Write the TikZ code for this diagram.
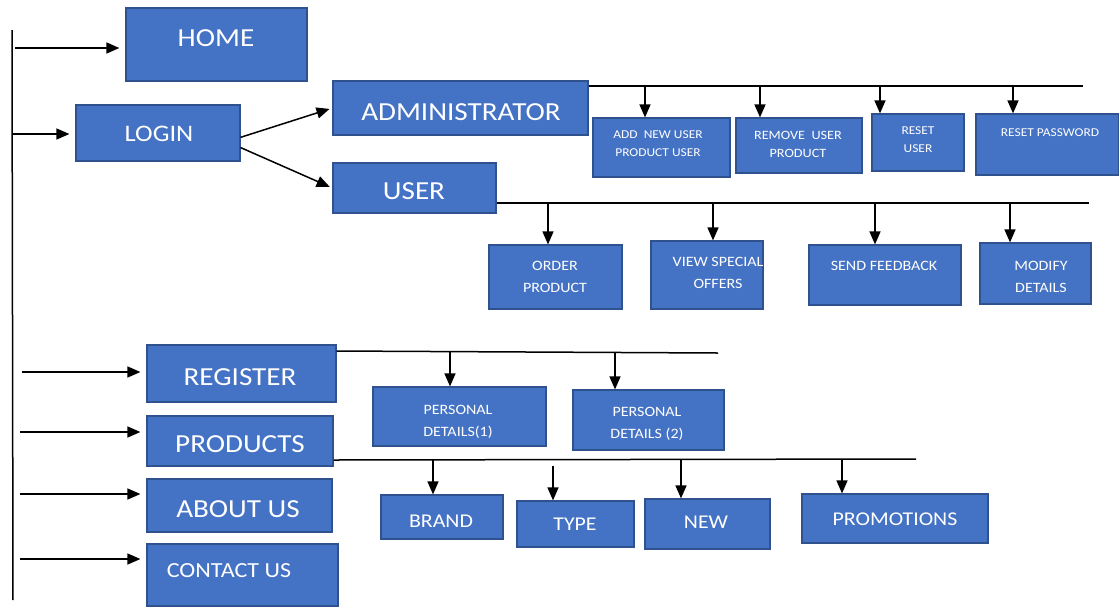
\documentclass[tikz,border=0pt]{standalone}
\usepackage{fontspec}
\setmainfont[FakeStretch=1.12]{Carlito}
\usetikzlibrary{arrows.meta}
\definecolor{boxfill}{HTML}{4472C4}
\definecolor{boxline}{HTML}{2F528F}
\tikzset{
  box/.style={draw=boxline, fill=boxfill, line width=1.2pt, inner sep=0pt, rectangle},
  txt/.style={text=white, align=center, inner sep=0pt},
  big/.style={txt, font=\fontsize{26}{30}\selectfont},
  mid/.style={txt, font=\fontsize{19.5}{24}\selectfont},
  tiny/.style={txt, font=\fontsize{12}{18}\selectfont},
  sml/.style={txt, font=\fontsize{14.3}{22}\selectfont},
  arr/.style={line width=1.5pt, -{Triangle[length=13pt,width=11pt]}},
  bus/.style={line width=1.5pt},
}
\begin{document}
\begin{tikzpicture}[x=1pt,y=-1pt]
\useasboundingbox (0,0) rectangle (1119,606);
% boxes
\node[box, minimum width=181, minimum height=73] (home) at (216.5,44.5) {};
\node[box, minimum width=164, minimum height=56] (login) at (158,133) {};
\node[box, minimum width=255, minimum height=54] (admin) at (460.5,108) {};
\node[box, minimum width=163, minimum height=50] (user) at (414.5,188) {};
\node[box, minimum width=137, minimum height=59] (addnew) at (661.5,147.5) {};
\node[box, minimum width=126, minimum height=55] (remove) at (799,145.5) {};
\node[box, minimum width=92, minimum height=57] (reset) at (918,142.5) {};
\node[box, minimum width=143, minimum height=61] (resetpw) at (1047.5,144.5) {};
\node[box, minimum width=133, minimum height=64] (order) at (555.5,277) {};
\node[box, minimum width=112, minimum height=68] (view) at (707,275) {};
\node[box, minimum width=152, minimum height=60] (send) at (885,275) {};
\node[box, minimum width=111, minimum height=61] (modify) at (1035.5,273.5) {};
\node[box, minimum width=189, minimum height=57] (register) at (241.5,373.5) {};
\node[box, minimum width=186, minimum height=50] (products) at (240,441) {};
\node[box, minimum width=185, minimum height=53] (about) at (239.5,505.5) {};
\node[box, minimum width=191, minimum height=62] (contact) at (242.5,575) {};
\node[box, minimum width=173, minimum height=59] (pd1) at (459.5,416.5) {};
\node[box, minimum width=151, minimum height=60] (pd2) at (648.5,420) {};
\node[box, minimum width=122, minimum height=44] (brand) at (442,517) {};
\node[box, minimum width=117, minimum height=46] (type) at (575.5,524) {};
\node[box, minimum width=125, minimum height=50] (new) at (707.5,524) {};
\node[box, minimum width=186, minimum height=49] (promo) at (895,518.5) {};
% texts
\node[big] (thome) at (216,38) {HOME};
\node[big, font=\fontsize{23.7}{28}\selectfont] (tlogin) at (159,134) {LOGIN};
\node[big] (tadmin) at (461,112) {ADMINISTRATOR};
\node[big] (tuser) at (414,191) {USER};
\node[tiny] (taddnew) at (658,144) {ADD \ NEW USER\\PRODUCT USER};
\node[tiny, font=\fontsize{12.7}{18}\selectfont] (tremove) at (798,144) {REMOVE \ USER\\PRODUCT};
\node[tiny] (treset) at (918,140) {RESET\\USER};
\node[tiny] (tresetpw) at (1050,133) {RESET PASSWORD};
\node[sml] (torder) at (555,277) {ORDER\\PRODUCT};
\node[sml] (tview) at (718,273) {VIEW SPECIAL\\OFFERS};
\node[sml] (tsend) at (884,266) {SEND FEEDBACK};
\node[sml] (tmodify) at (1041,277) {MODIFY\\DETAILS};
\node[big] (tregister) at (240,377) {REGISTER};
\node[big] (tproducts) at (240,444) {PRODUCTS};
\node[big] (tabout) at (238,509) {ABOUT US};
\node[big, font=\fontsize{21.5}{26}\selectfont] (tcontact) at (229,571) {CONTACT US};
\node[sml] (tpd1) at (458,422) {PERSONAL\\DETAILS(1)};
\node[sml] (tpd2) at (647,424) {PERSONAL\\DETAILS (2)};
\node[mid] (tbrand) at (441,521) {BRAND};
\node[mid] (ttype) at (575,524) {TYPE};
\node[mid] (tnew) at (706,522) {NEW};
\node[mid] (tpromo) at (895,519) {PROMOTIONS};
% left trunk
\coordinate (trtop) at (12,30);
\coordinate (trbot) at (13,600);
\draw[bus] (trtop) -- (trbot);
\coordinate (lh) at (15,48);
\coordinate (ll) at (12,134);
\coordinate (lr) at (22,372);
\coordinate (lp) at (20,432);
\coordinate (la) at (20,494);
\coordinate (lc) at (20,559);
\draw[arr, shorten >=6pt] (lh) -- (lh -| home.west);
\draw[arr, shorten >=6pt] (ll) -- (ll -| login.west);
\draw[arr, shorten >=6pt] (lr) -- (lr -| register.west);
\draw[arr, shorten >=6pt] (lp) -- (lp -| products.west);
\draw[arr, shorten >=6pt] (la) -- (la -| about.west);
\draw[arr, shorten >=6pt] (lc) -- (lc -| contact.west);
% login branches
\draw[arr, shorten >=3pt] (login.-3) -- (admin.west);
\draw[arr, shorten >=3pt] (login.-10) -- (user.west);
% admin bus
\coordinate (abus) at (1083,86);
\draw[bus] (admin.east |- abus) -- (abus);
\coordinate (a1) at (645,86);
\coordinate (a2) at (760,86);
\coordinate (a3) at (880,86);
\coordinate (a4) at (1013,86);
\draw[arr] (a1) -- (a1 |- addnew.north);
\draw[arr] (a2) -- (a2 |- remove.north);
\draw[arr] (a3) -- (a3 |- reset.north);
\draw[arr] (a4) -- (a4 |- resetpw.north);
% user bus
\coordinate (ubus) at (1089,203);
\draw[bus] (user.east |- ubus) -- (ubus);
\coordinate (u1) at (548,203);
\coordinate (u2) at (713,203);
\coordinate (u3) at (875,203);
\coordinate (u4) at (1010,203);
\draw[arr] (u1) -- (u1 |- order.north);
\draw[arr] (u2) -- (u2 |- view.north);
\draw[arr] (u3) -- (u3 |- send.north);
\draw[arr] (u4) -- (u4 |- modify.north);
% register bus
\coordinate (rbus) at (718,353);
\draw[bus] (register.east |- 0,351) -- (rbus);
\coordinate (r1) at (450,352);
\coordinate (r2) at (615,353);
\draw[arr] (r1) -- (r1 |- pd1.north);
\draw[arr] (r2) -- (r2 |- pd2.north);
% products bus
\coordinate (pbus) at (916,459);
\draw[bus] (products.east |- 0,460) -- (pbus);
\coordinate (p1) at (433,460);
\coordinate (p2) at (553,466);
\coordinate (p3) at (681,460);
\coordinate (p4) at (842,459);
\draw[arr] (p1) -- (p1 |- brand.north);
\draw[arr] (p2) -- (p2 |- type.north);
\draw[arr] (p3) -- (p3 |- new.north);
\draw[arr] (p4) -- (p4 |- promo.north);
\end{tikzpicture}
\end{document}
